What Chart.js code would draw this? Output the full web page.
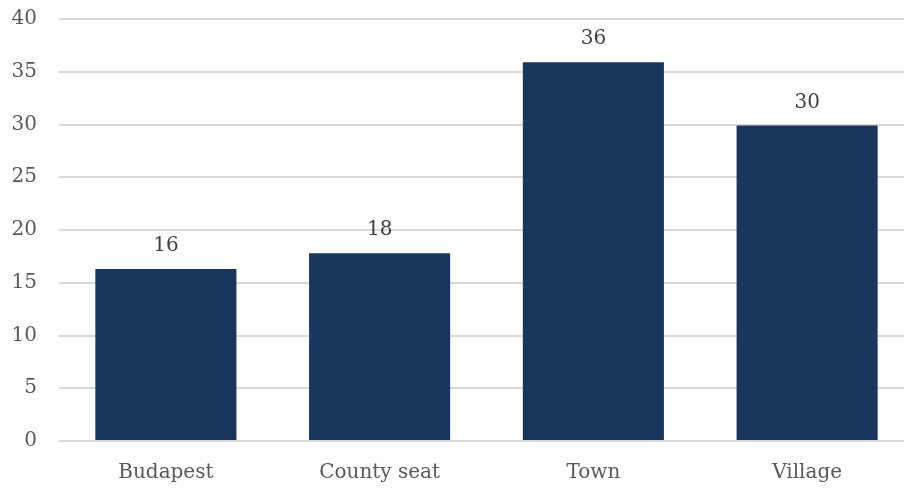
<!DOCTYPE html>
<html>
<head>
<meta charset="utf-8">
<title>Settlement type</title>
<script src="https://cdn.jsdelivr.net/npm/chart.js@4.4.1/dist/chart.umd.min.js"></script>
<style>
  html, body { margin: 0; padding: 0; background: #fff; overflow: hidden; }
  #wrap { width: 904px; height: 488px; overflow: hidden; }
  #box { position: relative; width: 914px; height: 488px; }
</style>
</head>
<body>
<div id="wrap"><div id="box"><canvas id="chart"></canvas></div></div>
<script>
'use strict';

// Data
let categories = ['Budapest', 'County seat', 'Town', 'Village'];
let shares = [16.3, 17.8, 35.9, 29.9];
let yTicks = [0, 5, 10, 15, 20, 25, 30, 35, 40];

const FONT = '"DejaVu Serif", "Liberation Serif", serif';

// Value labels drawn above each bar
let barLabels = {
  id: 'barLabels',
  afterDatasetsDraw(chart){
    let ctx = chart.ctx;
    let meta = chart.getDatasetMeta(0);
    ctx.save();
    ctx.font = '20px ' + FONT;
    ctx.fillStyle = '#404040';
    ctx.textAlign = 'center';
    ctx.textBaseline = 'middle';
    meta.data.forEach((bar, i) => {
      ctx.fillText(Math.round(shares[i]).toString(), bar.x, bar.y - 23);
    });
    ctx.restore();
  }
};

let chartContext = document.getElementById('chart');

new Chart(chartContext, {
  type: 'bar',
  data: {
    labels: categories,
    datasets: [{
      data: shares,
      backgroundColor: '#1a365d',
      borderWidth: 0,
      barPercentage: 0.66,
      categoryPercentage: 1
    }]
  },
  options: {
    responsive: true,
    maintainAspectRatio: false,
    animation: false,
    layout: { padding: { top: 19, left: 0, right: 0, bottom: 0 } },
    plugins: {
      legend: { display: false },
      tooltip: { enabled: false }
    },
    scales: {
      x: {
        afterFit(scale){
          scale.height = 47;
          scale.paddingLeft = 0;
          scale.paddingRight = 0;
        },
        grid: { display: false, drawTicks: false },
        border: { display: false },
        ticks: {
          color: '#595959',
          font: { family: FONT, size: 20 },
          padding: 20
        }
      },
      y: {
        min: 0,
        max: 40,
        afterBuildTicks(scale){
          scale.ticks = yTicks.map(v => ({ value: v }));
        },
        afterFit(scale){
          scale.width = 59;
          scale.paddingTop = 0;
          scale.paddingBottom = 0;
        },
        grid: { color: '#d9d9d9', lineWidth: 2, drawTicks: false },
        border: { display: false },
        ticks: {
          color: '#595959',
          font: { family: FONT, size: 20 },
          padding: 22
        }
      }
    }
  },
  plugins: [barLabels]
});
</script>
</body>
</html>
